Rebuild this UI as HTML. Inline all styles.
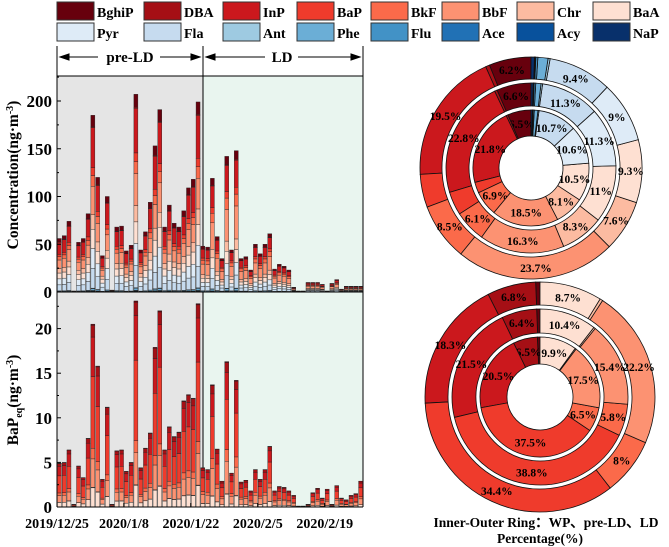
<!DOCTYPE html>
<html><head><meta charset="utf-8"><style>
html,body{margin:0;padding:0;background:#fff;}
svg{display:block;font-family:"Liberation Serif",serif;font-weight:bold;}
</style></head><body>
<svg id="c" width="669" height="547" viewBox="0 0 669 547" xmlns="http://www.w3.org/2000/svg"></svg>
<script>
const species=["BghiP","DBA","InP","BaP","BkF","BbF","Chr","BaA","Pyr","Fla","Ant","Phe","Flu","Ace","Acy","NaP"];
const colors=["#67000d","#a50f15","#cb181d","#ef3b2c","#fb6a4a","#fc9272","#fcbba1","#fee0d2","#deebf7","#c6dbef","#9ecae1","#6baed6","#4292c6","#2171b5","#08519c","#08306b"];
const concTotals=[56,59,74,1,52,56,82,185,120,38,100,2,68,69,43,49,207,44,63,94,153,191,68,91,72,68,85,109,118,199,48,47,119,58,35,142,44,148,35,37,23,50,40,50,61,24,29,27,23,5,1,1,10,10,10,8,1,9,13,3,6,6,6,6];
const bapTotals=[4.9,5.0,6.4,0.3,4.6,3.3,7.7,20.5,15.8,3.1,11.2,0.3,6.3,6.4,4.0,5.0,23.1,4.4,6.6,8.3,17.9,22.0,6.4,9.0,7.9,8.4,11.9,12.6,12.2,22.8,4.4,4.2,13.7,6.5,2.9,16.3,3.8,14.2,2.8,3.0,1.8,4.2,3.1,4.2,6.8,1.8,2.3,2.2,1.8,1.3,0.1,0.1,0.3,1.6,2.1,1.0,2.0,0.3,2.4,1.0,0.8,1.3,1.5,2.9];
const concWP=[6.5,0.5,21.8,3,6.9,18.5,8.1,10.5,10.6,10.7,0.3,1,0.3,0.1,0.1,0.4];
const concPre=[6.6,0.5,22.8,4.5,6.1,16.3,8.3,11,11.3,11.3,0.3,1,0.3,0.1,0.1,0.4];
const concLD=[6.2,0.6,19.5,4.9,8.5,23.7,7.6,9.3,9,9.4,0.3,1.5,0.3,0.1,0.1,0.5];
const bapWP=[0.7,6.5,20.5,37.5,6.5,17.5,0.3,9.9,0,0,0,0,0,0,0,0];
const bapPre=[0.6,6.4,21.5,38.8,5.8,15.4,0.3,10.4,0,0,0,0,0,0,0,0];
const bapLD=[0.6,6.8,18.3,34.4,8,22.2,0.4,8.7,0,0,0,0,0,0,0,0];
const concTicks=[0,50,100,150,200];
const bapTicks=[0,5,10,15,20];
const dateLabels=["2019/12/25","2020/1/8","2020/1/22","2020/2/5","2020/2/19"];
const dateIdx=[0,14,28,42,56];
const ldStart=30;

const NS="http://www.w3.org/2000/svg";
const svg=document.getElementById('c');
function mk(t,a,p){const e=document.createElementNS(NS,t);for(const k in a)e.setAttribute(k,a[k]);(p||svg).appendChild(e);return e;}
const X0=57,X1=363,nDays=concTotals.length,dw=(X1-X0)/nDays;
const xDay=i=>X0+i*dw;
const yC=v=>292-v*0.955;
const yB=v=>507-v*8.92;
const xDiv=203;

species.forEach((s,i)=>{
  const col=i%8,row=Math.floor(i/8);
  const lx=[57,144,223,297,371,442,517,593][col],ly=row?23:2;
  const g=mk('g',{});
  
  
  mk('rect',{x:lx,y:ly,width:37,height:18,fill:colors[i],stroke:'#333','stroke-width':1},g);
  const t=mk('text',{x:lx+40,y:ly+15,'font-size':14},g);t.textContent=s;
});

mk('rect',{x:X0,y:76,width:xDiv-X0,height:431,fill:'#e5e5e5',});
mk('rect',{x:xDiv,y:76,width:X1-xDiv,height:431,fill:'#e9f5ef',});

const hg=mk('g',{stroke:'#000','stroke-width':1});
[X0,xDiv,X1].forEach(x=>mk('line',{x1:x,y1:46,x2:x,y2:507},hg));
mk('line',{x1:X0,y1:76,x2:X1,y2:76},hg);
function arrow(x1,x2,y){mk('line',{x1:x1,y1:y,x2:x2,y2:y},hg);}
arrow(60,98,57);arrow(160,200,57);arrow(206,265,57);arrow(298,360,57);
mk('path',{d:'M60,57 l9,-3 v6z M200,57 l-9,-3 v6z M206,57 l9,-3 v6z M360,57 l-9,-3 v6z',fill:'#000'},hg);
let t=mk('text',{x:130,y:62,'font-size':15,'text-anchor':'middle',});t.textContent='pre-LD';
t=mk('text',{x:282,y:62,'font-size':15,'text-anchor':'middle',});t.textContent='LD';

const topG=mk('g',{});
concTotals.forEach((tot,i)=>{
  const sh=i<ldStart?concPre:concLD;const sum=sh.reduce((a,b)=>a+b,0);
  let acc=0;
  for(let k=15;k>=0;k--){
    const v=tot*sh[k]/sum;if(v<=0)continue;
    const r=mk('rect',{x:xDay(i)+0.4,y:yC(acc+v),width:dw-0.8,height:Math.max(0,yC(acc)-yC(acc+v)),fill:colors[k],stroke:'#222','stroke-width':0.4},topG);
    
    
    acc+=v;
  }
});
const botG=mk('g',{});
bapTotals.forEach((tot,i)=>{
  const sh=i<ldStart?bapPre:bapLD;const sum=sh.reduce((a,b)=>a+b,0);
  let acc=0;
  for(let k=15;k>=0;k--){
    const v=tot*sh[k]/sum;if(v<=0)continue;
    const r=mk('rect',{x:xDay(i)+0.4,y:yB(acc+v),width:dw-0.8,height:Math.max(0,yB(acc)-yB(acc+v)),fill:colors[k],stroke:'#222','stroke-width':0.4},botG);
    
    
    acc+=v;
  }
});

const ax=mk('g',{stroke:'#000','stroke-width':1,});
mk('line',{x1:X0,y1:292,x2:X1,y2:292},ax);
mk('line',{x1:X0,y1:507,x2:X1,y2:507},ax);
concTicks.forEach(v=>{mk('line',{x1:X0,y1:yC(v),x2:X0+4,y2:yC(v)},ax);
  const tt=mk('text',{x:X0-5,y:yC(v)+6,'font-size':17,'text-anchor':'end',stroke:'none'});tt.textContent=v;
  
  mk('line',{x1:X0,y1:yC(v+25),x2:X0+2,y2:yC(v+25)},ax);});
bapTicks.forEach(v=>{mk('line',{x1:X0,y1:yB(v),x2:X0+4,y2:yB(v)},ax);
  const tt=mk('text',{x:X0-5,y:yB(v)+6,'font-size':17,'text-anchor':'end',stroke:'none'});tt.textContent=v;
  
  mk('line',{x1:X0,y1:yB(v+2.5),x2:X0+2,y2:yB(v+2.5)},ax);});
dateLabels.forEach((d,j)=>{const x=xDay(dateIdx[j]);mk('line',{x1:x,y1:507,x2:x,y2:503},ax);
  const tt=mk('text',{x:x,y:528,'font-size':14,'text-anchor':'middle',stroke:'none'});tt.textContent=d;
  });
t=mk('text',{transform:'translate(18,175) rotate(-90)','font-size':15.5,'text-anchor':'middle',});
t.innerHTML='Concentration(ng·m<tspan dy="-5" font-size="10">-3</tspan><tspan dy="5">)</tspan>';
t=mk('text',{transform:'translate(18,400) rotate(-90)','font-size':15.5,'text-anchor':'middle',});
t.innerHTML='BaP<tspan dy="4" font-size="10">eq</tspan><tspan dy="-4">(ng·m</tspan><tspan dy="-5" font-size="10">-3</tspan><tspan dy="5">)</tspan>';

function donut(cx,cy,rings,name){
  const g=mk('g',{});
  rings.forEach((rg,ri)=>{
    const vals=rg.vals,sum=vals.reduce((a,b)=>a+b,0);let a0=0;
    vals.forEach((v,k)=>{
      if(v<=0)return;const a1=a0+v/sum*2*Math.PI;
      const p=(r,a)=>[cx-r*Math.sin(a),cy-r*Math.cos(a)];
      const [x1,y1]=p(rg.r1,a0),[x2,y2]=p(rg.r1,a1),[x3,y3]=p(rg.r0,a1),[x4,y4]=p(rg.r0,a0);
      const lg=(a1-a0)>Math.PI?1:0;
      const path=mk('path',{d:`M${x1},${y1} A${rg.r1},${rg.r1} 0 ${lg} 0 ${x2},${y2} L${x3},${y3} A${rg.r0},${rg.r0} 0 ${lg} 1 ${x4},${y4}Z`,fill:colors[k],stroke:'#111','stroke-width':0.8},g);
      
      
      if(v>=5.5){const am=(a0+a1)/2,rm=(rg.r0+rg.r1)/2;const [tx,ty]=p(rm,am);
        const tt=mk('text',{x:tx,y:ty+4,'font-size':11.5,'text-anchor':'middle'},g);tt.textContent=v+'%';
        }
      a0=a1;
    });
  });
}
donut(531,168,[{r0:32,r1:58,vals:concWP},{r0:62,r1:85,vals:concPre},{r0:89,r1:111,vals:concLD}],'conc-donut');
donut(540,397,[{r0:33,r1:60,vals:bapWP},{r0:64,r1:88,vals:bapPre},{r0:92,r1:115,vals:bapLD}],'bapeq-donut');
t=mk('text',{x:546,y:527,'font-size':13.5,'text-anchor':'middle',});t.textContent='Inner-Outer Ring：WP、pre-LD、LD';
t=mk('text',{x:540,y:543,'font-size':13.5,'text-anchor':'middle',});t.textContent='Percentage(%)';
</script>
</body></html>
